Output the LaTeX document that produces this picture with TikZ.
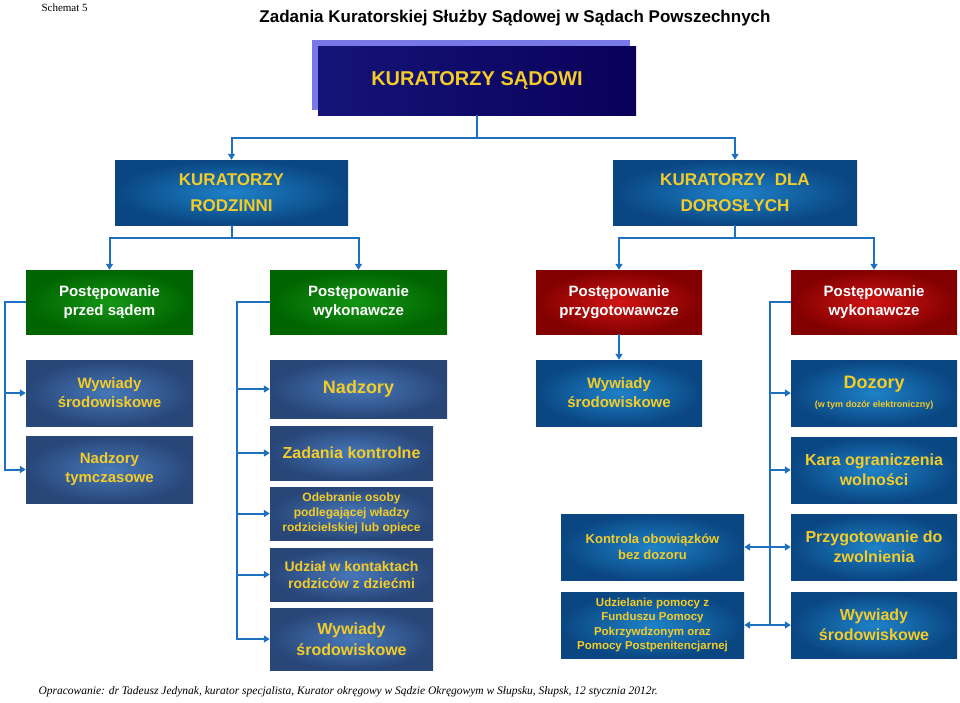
\documentclass[tikz,border=0pt]{standalone}
\usepackage{fontspec}
\setmainfont{Liberation Sans}
\newfontfamily\serif{Liberation Serif}
\usetikzlibrary{arrows.meta}
\definecolor{lineblue}{RGB}{30,112,192}
\definecolor{txtyel}{RGB}{244,204,40}
\begin{document}
\begin{tikzpicture}[x=1pt,y=-1pt,
  box/.style={inner sep=2pt,align=center,font=\bfseries\fontsize{15}{19}\selectfont},
  kbox/.style={box,shading=radial,inner color={rgb,255:red,30;green,130;blue,200},outer color={rgb,255:red,10;green,70;blue,130},text=txtyel},
  sbox/.style={box,shading=radial,inner color={rgb,255:red,70;green,120;blue,185},outer color={rgb,255:red,40;green,70;blue,120},text=txtyel},
  gbox/.style={box,shading=radial,inner color={rgb,255:red,20;green,150;blue,20},outer color={rgb,255:red,0;green,100;blue,0},text=white},
  rbox/.style={box,shading=radial,inner color={rgb,255:red,210;green,20;blue,20},outer color={rgb,255:red,130;green,0;blue,0},text=white},
  conn/.style={lineblue,line width=2pt},
  arr/.style={conn,-{Triangle[length=6pt,width=7pt]}},
  darr/.style={conn,{Triangle[length=6pt,width=7pt]}-{Triangle[length=6pt,width=7pt]}}]
\useasboundingbox (0,0) rectangle (960,702);
% title
\node[anchor=west,font=\serif\fontsize{11}{13}\selectfont] (sch) at (38,8) {Schemat 5};
\node[font=\bfseries\fontsize{17}{20}\selectfont] (title) at (515,18) {Zadania Kuratorskiej Służby Sądowej w Sądach Powszechnych};
% top
\fill[color={rgb,255:red,120;green,120;blue,230}] (312,40) rectangle (630,110);
\node[box,minimum width=318,minimum height=69,shading=axis,left color={rgb,255:red,20;green,20;blue,120},right color={rgb,255:red,10;green,0;blue,90},text=txtyel,font=\bfseries\fontsize{20}{24}\selectfont] (kur) at (477,80.5) {KURATORZY SĄDOWI};
% second row
\node[kbox,minimum width=233,minimum height=65,font=\bfseries\fontsize{17}{26}\selectfont] (rod) at (231.5,192.5) {KURATORZY\\RODZINNI};
\node[kbox,minimum width=244,minimum height=65,font=\bfseries\fontsize{17}{26}\selectfont] (dor) at (735,192.5) {KURATORZY~ DLA\\DOROSŁYCH};
% proceedings
\node[gbox,minimum width=167,minimum height=64] (g1) at (109.5,302) {Postępowanie\\przed sądem};
\node[gbox,minimum width=177,minimum height=64] (g2) at (358.5,302) {Postępowanie\\wykonawcze};
\node[rbox,minimum width=166,minimum height=64] (r1) at (619,302) {Postępowanie\\przygotowawcze};
\node[rbox,minimum width=166,minimum height=64] (r2) at (874,302) {Postępowanie\\wykonawcze};
% third row
\node[sbox,minimum width=167,minimum height=66] (w1) at (109.5,393) {Wywiady\\środowiskowe};
\node[sbox,minimum width=177,minimum height=58,font=\bfseries\fontsize{18}{22}\selectfont] (nad) at (358.5,389) {Nadzory};
\node[kbox,minimum width=166,minimum height=66] (w2) at (619,393) {Wywiady\\środowiskowe};
\node[kbox,minimum width=166,minimum height=66] (doz) at (874,393) {{\fontsize{18}{22}\selectfont Dozory}\\{\fontsize{9}{12}\selectfont (w tym dozór elektroniczny)}};
% left columns
\node[sbox,minimum width=167,minimum height=67] (nt) at (109.5,469.5) {Nadzory\\tymczasowe};
\node[sbox,minimum width=163,minimum height=54,font=\bfseries\fontsize{16}{20}\selectfont] (zad) at (351.5,453) {Zadania kontrolne};
\node[sbox,minimum width=163,minimum height=53,font=\bfseries\fontsize{12}{15}\selectfont] (ode) at (351.5,513.5) {Odebranie osoby\\podlegającej władzy\\rodzicielskiej lub opiece};
\node[sbox,minimum width=163,minimum height=53,font=\bfseries\fontsize{14}{17}\selectfont] (udz) at (351.5,574.5) {Udział w kontaktach\\rodziców z dziećmi};
\node[sbox,minimum width=163,minimum height=62,font=\bfseries\fontsize{16}{21}\selectfont] (w3) at (351.5,639) {Wywiady\\środowiskowe};
% right columns
\node[kbox,minimum width=183,minimum height=66,font=\bfseries\fontsize{13}{16}\selectfont] (kon) at (652.5,547) {Kontrola obowiązków\\bez dozoru};
\node[kbox,minimum width=183,minimum height=66,font=\bfseries\fontsize{11.5}{14.5}\selectfont] (pom) at (652.5,625) {Udzielanie pomocy z\\Funduszu Pomocy\\Pokrzywdzonym oraz\\Pomocy Postpenitencjarnej};
\node[kbox,minimum width=166,minimum height=66,font=\bfseries\fontsize{16}{20}\selectfont] (kar) at (874,470) {Kara ograniczenia\\wolności};
\node[kbox,minimum width=166,minimum height=66,font=\bfseries\fontsize{16}{20}\selectfont] (prz) at (874,547) {Przygotowanie do\\zwolnienia};
\node[kbox,minimum width=166,minimum height=66,font=\bfseries\fontsize{16}{20}\selectfont] (w4) at (874,625) {Wywiady\\środowiskowe};
% connectors
\draw[arr] (kur.south) -- ++(0,23) -| (rod.north);
\draw[arr] (kur.south) -- ++(0,23) -| (dor.north);
\draw[arr] (rod.south) -- ++(0,13) -| (g1.north);
\draw[arr] (rod.south) -- ++(0,13) -| (g2.north);
\draw[arr] (dor.south) -- ++(0,13) -| (r1.north);
\draw[arr] (dor.south) -- ++(0,13) -| (r2.north);
\draw[arr] (r1.south) -- (w2.north);
\foreach \t in {w1,nt}
  \draw[arr] (g1.west) -- ++(-21,0) |- (\t.west);
\foreach \t in {nad,zad,ode,udz,w3}
  \draw[arr] (g2.west) -- ++(-33,0) |- (\t.west);
\foreach \t in {doz,kar,prz,w4}
  \draw[arr] (r2.west) -- ++(-21,0) |- (\t.west);
\foreach \t in {kon,pom}
  \draw[arr] (r2.west) -- ++(-21,0) |- (\t.east);
% footer
\node[anchor=west,font=\serif\itshape\fontsize{11.5}{13}\selectfont] (foot) at (35,692) {Opracowanie: dr Tadeusz Jedynak, kurator specjalista, Kurator okręgowy w Sądzie Okręgowym w Słupsku, Słupsk, 12 stycznia 2012r.};
\end{tikzpicture}
\end{document}
